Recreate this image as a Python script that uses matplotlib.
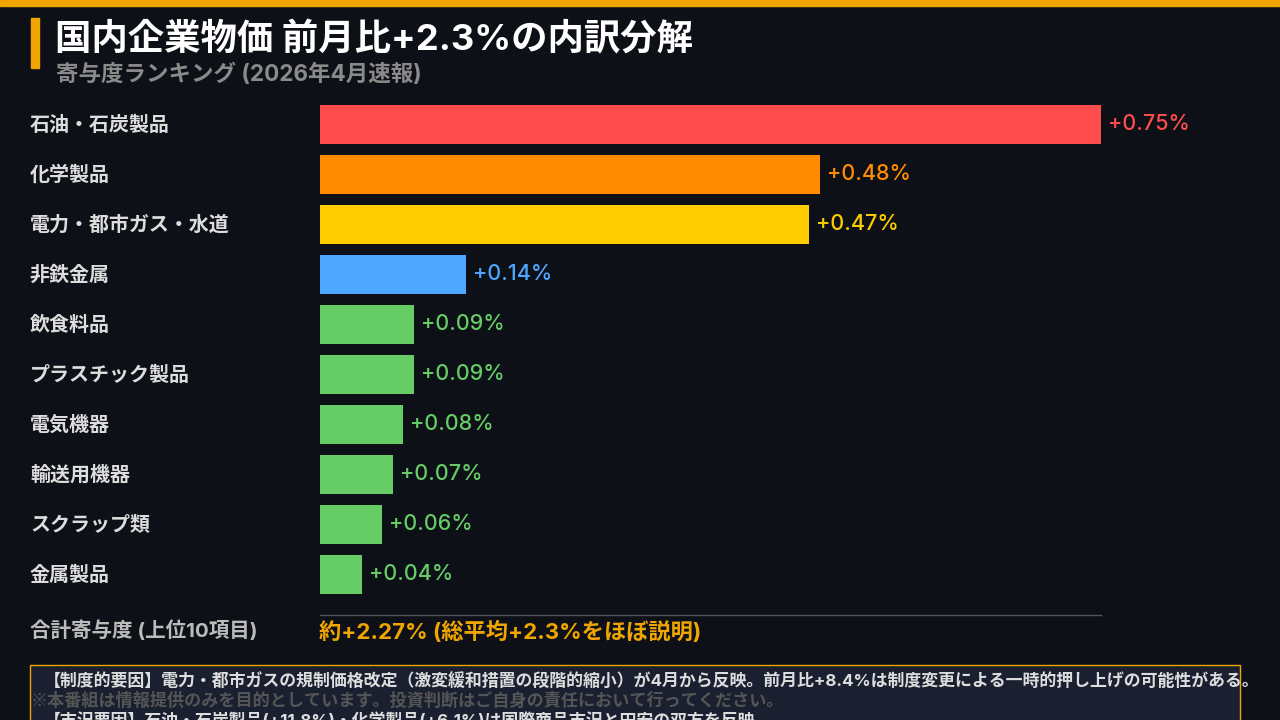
import matplotlib
matplotlib.use("Agg")
import matplotlib.pyplot as plt
from matplotlib.patches import Rectangle
from matplotlib.lines import Line2D

JP = ['Noto Sans CJK JP', 'DejaVu Sans']
MIX = ['Inter', 'Noto Sans CJK JP', 'DejaVu Sans']
plt.rcParams['font.family'] = JP

# data
categories = ["石油・石炭製品", "化学製品", "電力・都市ガス・水道", "非鉄金属", "飲食料品",
              "プラスチック製品", "電気機器", "輸送用機器", "スクラップ類", "金属製品"]
values = [0.75, 0.48, 0.47, 0.14, 0.09, 0.09, 0.08, 0.07, 0.06, 0.04]
bar_colors = ["#FF4D4D", "#FF8C00", "#FFCC00", "#4DA6FF", "#66CC66",
              "#66CC66", "#66CC66", "#66CC66", "#66CC66", "#66CC66"]
value_labels = [f"+{v:.2f}%" for v in values]

title = "国内企業物価 前月比+2.3%の内訳分解"
subtitle = "寄与度ランキング (2026年4月速報)"
total_label = "合計寄与度 (上位10項目)"
total_text = "約+2.27% (総平均+2.3%をほぼ説明)"
note_lines = [
    "【制度的要因】電力・都市ガスの規制価格改定（激変緩和措置の段階的縮小）が4月から反映。前月比+8.4%は制度変更による一時的押し上げの可能性がある。",
    "【市況要因】石油・石炭製品(+11.8%)・化学製品(+6.1%)は国際商品市況と円安の双方を反映。",
]
disclaimer = "※本番組は情報提供のみを目的としています。投資判断はご自身の責任において行ってください。"

BG = "#0D1017"
ACCENT = "#F0A500"
W, H = 1280, 720


def fx(x):
    return x / W


def fy(y):
    return 1 - y / H


fig = plt.figure(figsize=(12.8, 7.2), dpi=100)
fig.patch.set_facecolor(BG)

# top band and title accent
fig.patches.append(Rectangle((0, fy(6)), 1, 6 / H, transform=fig.transFigure,
                             color=ACCENT, zorder=5))
fig.patches.append(Rectangle((fx(31), fy(68)), 8 / W, 50 / H, transform=fig.transFigure,
                             color=ACCENT, zorder=5))
fig.text(fx(55), fy(40), title, color="white", fontsize=26.2, fontweight="bold",
         family=MIX, va="center", ha="left")
fig.text(fx(56), fy(75), subtitle, color="#8A8A8A", fontsize=16.2, fontweight="bold",
         family=MIX, va="center", ha="left")

# bar chart
ax = fig.add_axes([fx(320), fy(599), 781 / W, 500 / H])
ax.set_facecolor(BG)
ypos = list(range(len(categories)))
ax.barh(ypos, values, height=0.78, color=bar_colors)
ax.set_xlim(0, max(values))
ax.set_ylim(len(categories) - 0.5, -0.5)
for y, v, lab, c in zip(ypos, values, value_labels, bar_colors):
    ax.annotate(lab, (v, y), xytext=(5, 0), textcoords="offset points", family=MIX,
                color=c, fontsize=15.5, fontweight="medium", va="center", ha="left",
                annotation_clip=False)
for s in ax.spines.values():
    s.set_visible(False)
ax.set_xticks([])
ax.set_yticks([])
for y, cat in zip(ypos, categories):
    fig.text(fx(30), fy(124 + 50 * y), cat, color="#DDDDDD", fontsize=14.4,
             fontweight="bold", va="center", ha="left")

# total row
fig.lines.append(Line2D([fx(320), fx(1101)], [fy(615), fy(615)],
                        transform=fig.transFigure, color="#555555", lw=1))
fig.text(fx(30), fy(631), total_label, color="#BBBBBB", fontsize=14.8,
         fontweight="bold", family=MIX, va="center", ha="left")
fig.text(fx(319), fy(632), total_text, color=ACCENT, fontsize=16,
         fontweight="bold", family=MIX, va="center", ha="left")

# note box
fig.patches.append(Rectangle((fx(30), fy(760)), 1210 / W, 95 / H, transform=fig.transFigure,
                             facecolor="#1B2030", edgecolor=ACCENT, lw=1, zorder=1))
fig.text(fx(44), fy(681), note_lines[0], color="#DDDDDD", fontsize=12.2,
         fontweight="bold", family=MIX, va="center", ha="left", zorder=3)
fig.text(fx(44), fy(720), note_lines[1], color="#DDDDDD", fontsize=12.2,
         fontweight="bold", family=MIX, va="center", ha="left", zorder=3)
fig.text(fx(31), fy(701), disclaimer, color="#555555", fontsize=12.3,
         fontweight="bold", va="center", ha="left", zorder=4)

fig.savefig("out.png", dpi=100, facecolor=BG)
